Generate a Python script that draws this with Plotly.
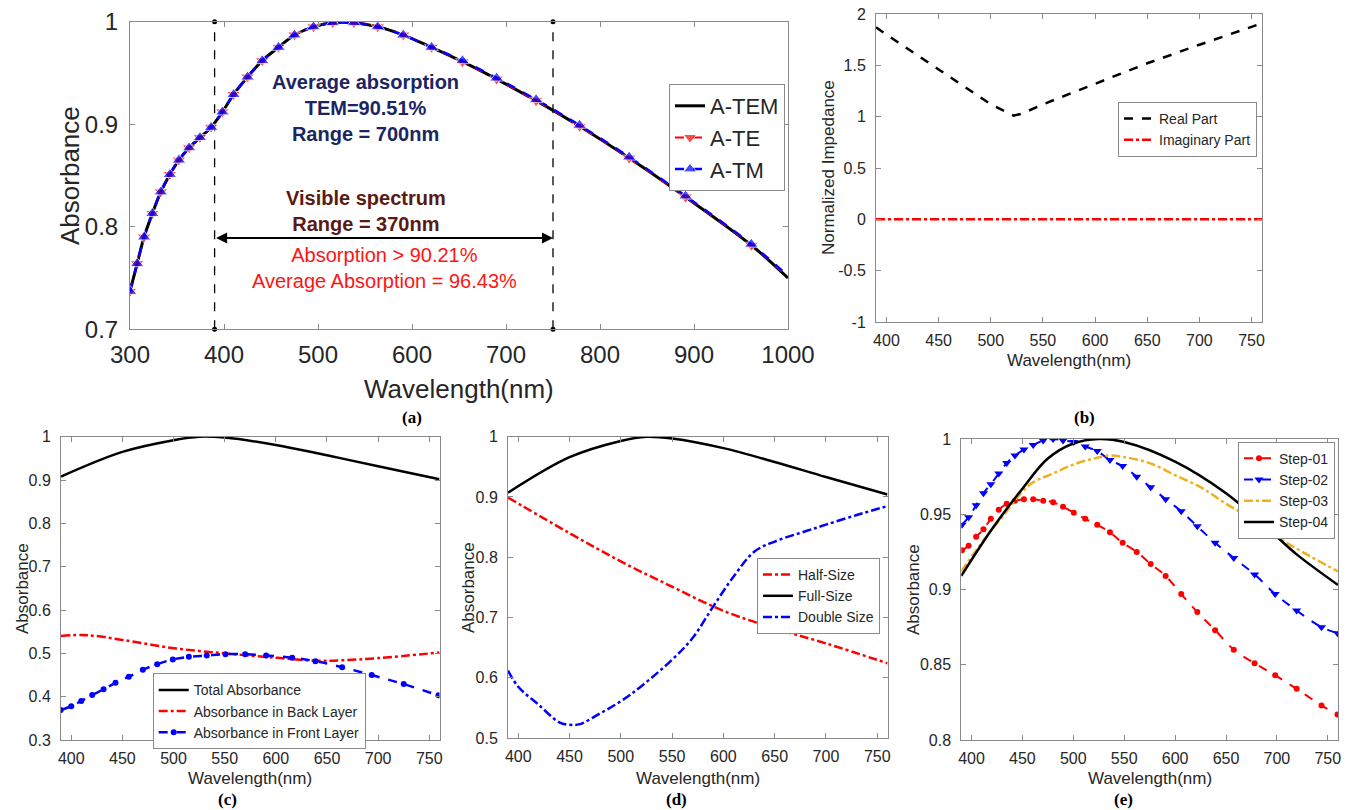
import plotly.graph_objects as go

W, H = 1351, 810

# ---------------- data ----------------
# (a) absorbance vs wavelength (300-1000 nm)
wl_a = [300, 307.6, 315, 323.8, 332.8, 342.4, 352, 362.9, 374.4, 386.3, 398.3, 410.2, 425,
        440.7, 458, 475, 495.2, 515.7, 538.2, 563.5, 590.7, 620.8, 653.7, 690, 732, 778.3,
        831, 891, 961, 1000]
a_tem = [0.737, 0.764, 0.790, 0.813, 0.834, 0.851, 0.865, 0.877, 0.887, 0.897, 0.912, 0.929,
         0.946, 0.962, 0.975, 0.987, 0.995, 0.999, 0.999, 0.995, 0.987, 0.975, 0.961, 0.944,
         0.923, 0.898, 0.867, 0.829, 0.782, 0.750]
a_te = [0.737, 0.764, 0.790, 0.813, 0.834, 0.851, 0.865, 0.877, 0.887, 0.897, 0.912, 0.929,
        0.946, 0.962, 0.975, 0.987, 0.995, 0.999, 0.999, 0.995, 0.987, 0.975, 0.961, 0.944,
        0.923, 0.898, 0.867, 0.829, 0.782, 0.751]
a_tm = [0.737, 0.764, 0.790, 0.813, 0.834, 0.851, 0.865, 0.877, 0.887, 0.897, 0.912, 0.929,
        0.946, 0.962, 0.975, 0.987, 0.995, 0.999, 0.999, 0.995, 0.987, 0.975, 0.962, 0.945,
        0.924, 0.899, 0.868, 0.830, 0.783, 0.752]
vis_bounds = [390, 750]
arrow_level = 0.789

# (b) normalized impedance
wl_b = [390, 400, 450, 500, 522, 530, 550, 600, 650, 700, 760]
z_real = [1.87, 1.80, 1.46, 1.12, 1.01, 1.03, 1.12, 1.32, 1.52, 1.70, 1.91]
wl_b_im = [390, 760]
z_imag = [0.0, 0.0]

# (c) layer absorbance
wl_c = [390, 450, 500, 525, 550, 600, 650, 700, 760]
c_total = [0.908, 0.965, 0.992, 1.0, 0.998, 0.981, 0.957, 0.932, 0.902]
wl_c_back = [390, 415, 450, 500, 550, 600, 640, 665, 700, 760]
c_back = [0.540, 0.542, 0.531, 0.512, 0.500, 0.490, 0.483, 0.484, 0.489, 0.502]
wl_c_front = [389.6, 400, 409.8, 420.5, 431.6, 443.3, 456.3, 470, 484, 499.3, 515, 532.5,
              550.8, 570, 590.5, 616, 638.7, 664.8, 693.7, 725, 759]
c_front = [0.369, 0.378, 0.390, 0.404, 0.417, 0.432, 0.446, 0.462, 0.475, 0.486, 0.492, 0.495,
           0.498, 0.498, 0.495, 0.490, 0.482, 0.468, 0.450, 0.429, 0.403]

# (d) size variation
wl_d = [390, 450, 500, 525, 550, 600, 650, 700, 760]
d_full = [0.907, 0.966, 0.993, 1.0, 0.997, 0.981, 0.958, 0.933, 0.904]
wl_d_half = [390, 450, 500, 550, 600, 650, 700, 760]
d_half = [0.899, 0.840, 0.793, 0.751, 0.711, 0.682, 0.657, 0.624]
wl_d_double = [390, 400, 420, 440, 450, 460, 480, 500, 520, 550, 570, 590, 610, 630, 650,
               680, 700, 730, 760]
d_double = [0.612, 0.585, 0.555, 0.526, 0.522, 0.523, 0.541, 0.561, 0.586, 0.630, 0.666,
            0.718, 0.768, 0.809, 0.826, 0.843, 0.854, 0.870, 0.885]

# (e) design steps
wl_e = [390.7, 397.2, 404.6, 411.8, 419, 426.8, 434.6, 442.7, 451.5, 460.6, 470.4, 480.2,
        489.9, 500.5, 511.7, 523.5, 536, 548.5, 562.3, 576, 590.7, 606, 621.8, 639.3, 657.6,
        678.1, 698.3, 719.4, 743.8, 759.5]
e_step01 = [0.926, 0.929, 0.935, 0.940, 0.947, 0.953, 0.957, 0.959, 0.960, 0.960, 0.959, 0.958,
            0.955, 0.951, 0.947, 0.943, 0.938, 0.931, 0.925, 0.917, 0.909, 0.897, 0.885, 0.873,
            0.860, 0.851, 0.843, 0.834, 0.823, 0.817]
e_step02 = [0.943, 0.948, 0.956, 0.964, 0.970, 0.977, 0.984, 0.989, 0.993, 0.996, 0.999, 1.0,
            0.999, 0.998, 0.995, 0.992, 0.986, 0.982, 0.975, 0.968, 0.960, 0.952, 0.942, 0.931,
            0.921, 0.910, 0.897, 0.886, 0.875, 0.871]
wl_e3 = [390, 410, 430, 450, 460, 480, 500, 520, 535, 550, 575, 600, 625, 650, 675, 700, 725, 760]
e_step03 = [0.912, 0.931, 0.948, 0.965, 0.971, 0.977, 0.983, 0.987, 0.989, 0.988, 0.984, 0.976,
            0.968, 0.957, 0.947, 0.935, 0.925, 0.912]
wl_e4 = [390, 420, 450, 475, 500, 525, 550, 600, 650, 680, 700, 720, 760]
e_step04 = [0.909, 0.940, 0.967, 0.987, 0.997, 1.0, 0.998, 0.985, 0.964, 0.947, 0.935, 0.923, 0.903]

# tick labels
ticks_a_x = [300, 400, 500, 600, 700, 800, 900, 1000]
ticks_a_y = [0.7, 0.8, 0.9, 1.0]
ticks_a_y_txt = ["0.7", "0.8", "0.9", "1"]
ticks_vis_x = [400, 450, 500, 550, 600, 650, 700, 750]
ticks_b_y = [-1, -0.5, 0, 0.5, 1, 1.5, 2]
ticks_b_y_txt = ["-1", "-0.5", "0", "0.5", "1", "1.5", "2"]
ticks_c_y = [0.3, 0.4, 0.5, 0.6, 0.7, 0.8, 0.9, 1.0]
ticks_c_y_txt = ["0.3", "0.4", "0.5", "0.6", "0.7", "0.8", "0.9", "1"]
ticks_d_y = [0.5, 0.6, 0.7, 0.8, 0.9, 1.0]
ticks_d_y_txt = ["0.5", "0.6", "0.7", "0.8", "0.9", "1"]
ticks_e_y = [0.8, 0.85, 0.9, 0.95, 1.0]
ticks_e_y_txt = ["0.8", "0.85", "0.9", "0.95", "1"]

# ---------------- layout helpers ----------------
FONT = "Arial, Liberation Sans, sans-serif"
SERIF = "Times New Roman, Liberation Serif, serif"
TXT = "#262626"
AXC = "#8a8a8a"

def px_x(p):
    return p / W

def px_y(p):
    return 1 - p / H

# panel plot areas in pixels: (left, right, top, bottom)
boxes = {
    "a": (130, 788, 21.7, 329.3),
    "b": (876, 1262, 14, 322),
    "c": (61, 439.5, 436.7, 740),
    "d": (508, 887.5, 436.7, 738),
    "e": (961.3, 1338, 439, 740),
}

def xax(box, rng, tv, size, anchor):
    l, r, t, b = box
    return dict(domain=[px_x(l), px_x(r)], range=rng, tickvals=tv, ticks="inside",
                ticklen=5, tickcolor=AXC, showline=True, linecolor=AXC, linewidth=1,
                mirror="ticks", showgrid=False, zeroline=False, anchor=anchor,
                automargin=False,
                tickfont=dict(family=FONT, size=size, color=TXT), ticklabelstandoff=4)

def yax(box, rng, tv, tt, size, anchor):
    l, r, t, b = box
    return dict(domain=[px_y(b), px_y(t)], range=rng, tickvals=tv, ticktext=tt,
                ticks="inside", ticklen=5, tickcolor=AXC, showline=True, linecolor=AXC,
                linewidth=1, mirror="ticks", showgrid=False, zeroline=False, anchor=anchor,
                automargin=False,
                tickfont=dict(family=FONT, size=size, color=TXT), ticklabelstandoff=6)

fig = go.Figure()

# ---------------- (a) ----------------
mk_sizes = [12] * (len(wl_a) - 1) + [0]
for xb in vis_bounds:
    fig.add_trace(go.Scatter(x=[xb, xb], y=[ticks_a_y[0], ticks_a_y[-1]], mode="lines+markers",
                             line=dict(color="black", width=1.3, dash="dash"),
                             marker=dict(color="black", size=5), showlegend=False,
                             cliponaxis=False, xaxis="x", yaxis="y", hoverinfo="skip"))
fig.add_trace(go.Scatter(x=wl_a, y=a_tem, name="A-TEM", mode="lines", line_shape="spline",
                         line=dict(color="black", width=3), xaxis="x", yaxis="y", legend="legend"))
fig.add_trace(go.Scatter(x=wl_a, y=a_te, name="A-TE", mode="lines+markers", line_shape="spline",
                         line=dict(color="red", width=2, dash="dash"),
                         marker=dict(symbol="triangle-down", color="red", size=mk_sizes),
                         xaxis="x", yaxis="y", legend="legend"))
fig.add_trace(go.Scatter(x=wl_a, y=a_tm, name="A-TM", mode="lines+markers", line_shape="spline",
                         line=dict(color="blue", width=2.5, dash="dash"),
                         marker=dict(symbol="triangle-up", color="blue", size=mk_sizes),
                         xaxis="x", yaxis="y", legend="legend"))

# ---------------- (b) ----------------
fig.add_trace(go.Scatter(x=wl_b, y=z_real, name="Real Part", mode="lines",
                         line=dict(color="black", width=2.5, dash="dash"),
                         xaxis="x2", yaxis="y2", legend="legend2"))
fig.add_trace(go.Scatter(x=wl_b_im, y=z_imag, name="Imaginary Part", mode="lines",
                         line=dict(color="red", width=2.5, dash="dashdot"),
                         xaxis="x2", yaxis="y2", legend="legend2"))

# ---------------- (c) ----------------
fig.add_trace(go.Scatter(x=wl_c, y=c_total, name="Total Absorbance", mode="lines",
                         line_shape="spline", line=dict(color="black", width=2.5),
                         xaxis="x3", yaxis="y3", legend="legend3"))
fig.add_trace(go.Scatter(x=wl_c_back, y=c_back, name="Absorbance in Back Layer", mode="lines",
                         line_shape="spline", line=dict(color="red", width=2.5, dash="dashdot"),
                         xaxis="x3", yaxis="y3", legend="legend3"))
fig.add_trace(go.Scatter(x=wl_c_front, y=c_front, name="Absorbance in Front Layer",
                         mode="lines+markers", line_shape="spline",
                         line=dict(color="blue", width=2.5, dash="dash"),
                         marker=dict(symbol="circle", color="blue", size=6),
                         xaxis="x3", yaxis="y3", legend="legend3"))

# ---------------- (d) ----------------
fig.add_trace(go.Scatter(x=wl_d_half, y=d_half, name="Half-Size", mode="lines",
                         line_shape="spline", line=dict(color="red", width=2.5, dash="dashdot"),
                         xaxis="x4", yaxis="y4", legend="legend4"))
fig.add_trace(go.Scatter(x=wl_d, y=d_full, name="Full-Size", mode="lines", line_shape="spline",
                         line=dict(color="black", width=2.5),
                         xaxis="x4", yaxis="y4", legend="legend4"))
fig.add_trace(go.Scatter(x=wl_d_double, y=d_double, name="Double Size", mode="lines",
                         line_shape="spline", line=dict(color="blue", width=2.5, dash="dashdot"),
                         xaxis="x4", yaxis="y4", legend="legend4"))

# ---------------- (e) ----------------
fig.add_trace(go.Scatter(x=wl_e, y=e_step01, name="Step-01", mode="lines+markers",
                         line_shape="spline", line=dict(color="red", width=2, dash="dash"),
                         marker=dict(symbol="circle", color="red", size=6),
                         xaxis="x5", yaxis="y5", legend="legend5"))
fig.add_trace(go.Scatter(x=wl_e, y=e_step02, name="Step-02", mode="lines+markers",
                         line_shape="spline", line=dict(color="blue", width=2, dash="dash"),
                         marker=dict(symbol="triangle-down", color="blue", size=8),
                         xaxis="x5", yaxis="y5", legend="legend5"))
fig.add_trace(go.Scatter(x=wl_e3, y=e_step03, name="Step-03", mode="lines", line_shape="spline",
                         line=dict(color="#EDB120", width=2.5, dash="dashdot"),
                         xaxis="x5", yaxis="y5", legend="legend5"))
fig.add_trace(go.Scatter(x=wl_e4, y=e_step04, name="Step-04", mode="lines", line_shape="spline",
                         line=dict(color="black", width=2.5),
                         xaxis="x5", yaxis="y5", legend="legend5"))

# ---------------- legends ----------------
def leg(xr, yt, size, anchor="right"):
    return dict(x=px_x(xr), y=px_y(yt), xanchor=anchor, yanchor="top", bgcolor="white",
                bordercolor=AXC, borderwidth=1, font=dict(family=FONT, size=size, color=TXT),
                itemwidth=30, tracegroupgap=0)

annotations = []
def atext(text, x, y, size, color=TXT, angle=0, xref="paper", yref="paper", family=FONT,
          xanchor="center", yanchor="middle"):
    annotations.append(dict(text=text, x=x, y=y, xref=xref, yref=yref, showarrow=False,
                            textangle=angle, xanchor=xanchor, yanchor=yanchor,
                            font=dict(family=family, size=size, color=color)))

# axis titles
atext("Absorbance", px_x(70), px_y(176), 26, angle=-90)
atext("Wavelength(nm)", px_x(459), px_y(389), 26)
atext("Normalized Impedance", px_x(829), px_y(168), 17, angle=-90)
atext("Wavelength(nm)", px_x(1069), px_y(360), 17)
for cx, cy, wx in [(22, 588, 250), (468, 588, 698), (913, 590, 1150)]:
    atext("Absorbance", px_x(cx), px_y(cy), 17, angle=-90)
    atext("Wavelength(nm)", px_x(wx), px_y(778), 17)

# panel labels
for lab, lx, ly in [("(a)", 412, 417), ("(b)", 1084, 417), ("(c)", 227, 799),
                    ("(d)", 677, 799), ("(e)", 1123, 799)]:
    atext("<b>%s</b>" % lab, px_x(lx), px_y(ly), 17, color="black", family=SERIF)

# panel (a) text
atext("<b>Average absorption<br>TEM=90.51%<br>Range = 700nm</b>", 550, 0.9155, 20,
      color="#1B2563", xref="x", yref="y")
atext("<b>Visible spectrum<br>Range = 370nm</b>", 551, 0.8158, 20, color="#5A1A12",
      xref="x", yref="y")
atext("Absorption > 90.21%<br>Average Absorption = 96.43%", 571, 0.760, 20, color="#FF1414",
      xref="x", yref="y")
annotations.append(dict(x=vis_bounds[1], y=arrow_level, ax=vis_bounds[0], ay=arrow_level,
                        xref="x", yref="y", axref="x", ayref="y", text="", showarrow=True,
                        arrowhead=2, arrowside="end+start", arrowsize=1.1, arrowwidth=2,
                        arrowcolor="black"))

fig.update_layout(
    width=W, height=H, margin=dict(l=0, r=0, t=0, b=0, autoexpand=False),
    paper_bgcolor="white", plot_bgcolor="white", font=dict(family=FONT, color=TXT),
    xaxis=xax(boxes["a"], [300, 1000], ticks_a_x, 24, "y"),
    yaxis=yax(boxes["a"], [0.7, 1.0], ticks_a_y, ticks_a_y_txt, 24, "x"),
    xaxis2=xax(boxes["b"], [390, 760], ticks_vis_x, 16, "y2"),
    yaxis2=yax(boxes["b"], [-1, 2], ticks_b_y, ticks_b_y_txt, 16, "x2"),
    xaxis3=xax(boxes["c"], [390, 760], ticks_vis_x, 16, "y3"),
    yaxis3=yax(boxes["c"], [0.3, 1.0], ticks_c_y, ticks_c_y_txt, 16, "x3"),
    xaxis4=xax(boxes["d"], [390, 760], ticks_vis_x, 16, "y4"),
    yaxis4=yax(boxes["d"], [0.5, 1.0], ticks_d_y, ticks_d_y_txt, 16, "x4"),
    xaxis5=xax(boxes["e"], [390, 760], ticks_vis_x, 16, "y5"),
    yaxis5=yax(boxes["e"], [0.8, 1.0], ticks_e_y, ticks_e_y_txt, 16, "x5"),
    legend=leg(785, 84, 22),
    legend2=leg(1257, 102, 14),
    legend3=leg(152.7, 673.3, 14, anchor="left"),
    legend4=leg(880, 558, 14),
    legend5=leg(1335, 441.7, 14),
    annotations=annotations,
    showlegend=True,
)

fig.write_html("out.html", config={"displayModeBar": False},
               post_script="document.body.style.margin='0px';"
               "document.body.style.overflow='hidden';")
